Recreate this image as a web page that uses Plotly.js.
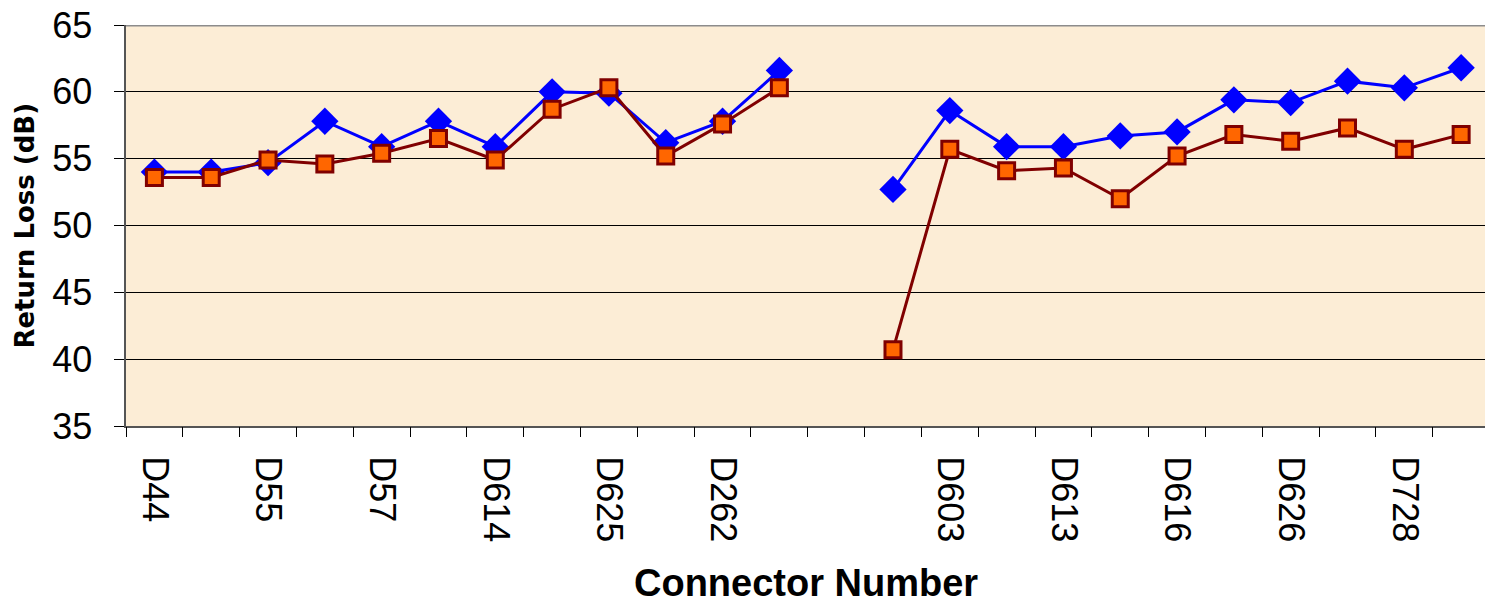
<!DOCTYPE html>
<html>
<head>
<meta charset="utf-8">
<script src="https://cdn.plot.ly/plotly-3.0.1.min.js"></script>
<style>html,body{margin:0;padding:0;background:#fff;}#chart{width:1485px;height:604px;}</style>
</head>
<body>
<div id="chart"></div>
<script>
// Category slots (0..23); only every other slot carries a visible label
const slotIndex = [0,1,2,3,4,5,6,7,8,9,10,11,12,13,14,15,16,17,18,19,20,21,22,23];
const labelSlots = [0,2,4,6,8,10,14,16,18,20,22];
const labelTexts = ["D44","D55","D57","D614","D625","D262","D603","D613","D616","D626","D728"];
const boundaryTicks = [-0.5,0.5,1.5,2.5,3.5,4.5,5.5,6.5,7.5,8.5,9.5,10.5,11.5,12.5,13.5,14.5,15.5,16.5,17.5,18.5,19.5,20.5,21.5,22.5,23.5];

const blueValues = [54.0,54.0,54.7,57.8,55.9,57.8,55.9,60.0,59.9,56.2,57.8,61.6,null,52.7,58.6,55.9,55.9,56.7,57.0,59.4,59.2,60.8,60.3,61.8];
const redValues  = [53.6,53.6,54.9,54.6,55.4,56.5,54.9,58.7,60.3,55.2,57.6,60.3,null,40.7,55.7,54.1,54.3,52.0,55.2,56.8,56.3,57.3,55.7,56.8];

const traces = [
  {
    x: slotIndex, y: blueValues, type: 'scatter', mode: 'lines+markers',
    connectgaps: false, showlegend: false, hoverinfo: 'skip',
    line: {color: '#0000ff', width: 3},
    marker: {symbol: 'diamond', size: 21, color: '#0000ff', line: {width: 0}}
  },
  {
    x: slotIndex, y: redValues, type: 'scatter', mode: 'lines+markers',
    connectgaps: false, showlegend: false, hoverinfo: 'skip',
    line: {color: '#800000', width: 3},
    marker: {symbol: 'square', size: 16, color: '#ff6600', line: {color: '#800000', width: 3}}
  },
  {
    x: [0], y: [null], xaxis: 'x2', type: 'scatter', mode: 'markers',
    showlegend: false, hoverinfo: 'skip'
  }
];

const xr = [-0.5, 23.42];
const layout = {
  width: 1485, height: 604,
  margin: {l: 126, r: 0, t: 25, b: 178},
  paper_bgcolor: '#ffffff',
  plot_bgcolor: '#fcedd6',
  font: {family: 'Liberation Sans, Arial, sans-serif', color: '#000'},
  xaxis: {
    range: xr, tickmode: 'array', tickvals: labelSlots, ticktext: labelTexts,
    tickangle: 90, ticks: 'outside', ticklen: 21, tickcolor: 'rgba(0,0,0,0)',
    tickfont: {size: 36, family: 'Liberation Sans, Arial, sans-serif'},
    showgrid: false, zeroline: false,
    showline: true, linecolor: '#555', linewidth: 2, fixedrange: true
  },
  xaxis2: {
    overlaying: 'x', anchor: 'y', side: 'bottom', range: xr,
    tickmode: 'array', tickvals: boundaryTicks, showticklabels: false,
    ticks: 'outside', ticklen: 10, tickcolor: '#000', tickwidth: 1,
    showgrid: false, zeroline: false, showline: false
  },
  yaxis: {
    range: [35, 65], dtick: 5, tick0: 35,
    ticks: 'outside', ticklen: 10, tickcolor: '#000', tickwidth: 1,
    ticklabelstandoff: 14,
    tickfont: {size: 36, family: 'Liberation Sans, Arial, sans-serif'},
    showgrid: true, gridcolor: '#000', gridwidth: 1,
    zeroline: false, showline: true, linecolor: '#555', linewidth: 2.5, fixedrange: true
  },
  shapes: [
    {type: 'line', xref: 'paper', yref: 'y', x0: 0, x1: 1, y0: 65, y1: 65,
     line: {color: '#8c8c8c', width: 3}}
  ],
  annotations: [
    {text: 'Connector Number', xref: 'paper', yref: 'paper', x: 0.5, y: -0.3915,
     xanchor: 'center', yanchor: 'middle', showarrow: false,
     font: {size: 38, family: 'Liberation Sans, Arial, sans-serif', weight: 'bold'}},
    {text: 'Return Loss (dB)', xref: 'paper', yref: 'paper', x: -0.075, y: 0.5,
     xanchor: 'center', yanchor: 'middle', textangle: -90, showarrow: false,
     font: {size: 26, family: 'DejaVu Sans, sans-serif', weight: 'bold'}}
  ]
};

Plotly.newPlot('chart', traces, layout, {displayModeBar: false, staticPlot: true});
</script>
</body>
</html>
